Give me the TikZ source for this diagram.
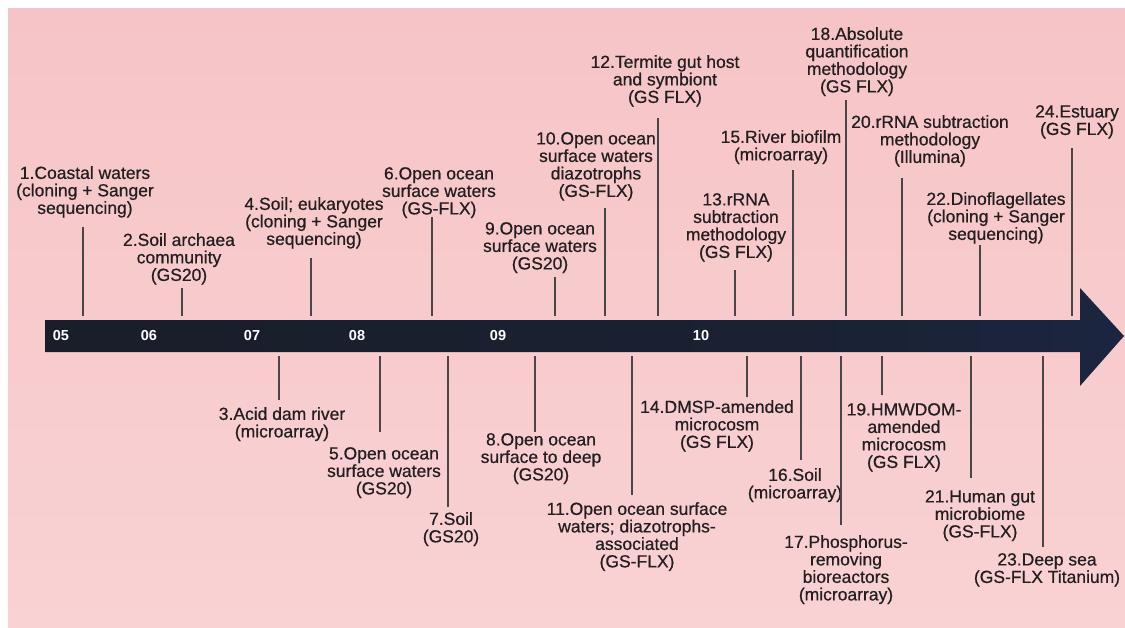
\documentclass[tikz,border=0pt]{standalone}
\usepackage{fontspec}
\setmainfont{Liberation Sans}
\newfontfamily\lblfont[FakeBold=0.6]{Liberation Sans}
\definecolor{bgpinktop}{HTML}{F6C4C6}
\definecolor{bgpinkbot}{HTML}{F9D2D4}
\definecolor{barleft}{HTML}{1A1B22}
\definecolor{barmid}{HTML}{1A2133}
\definecolor{barright}{HTML}{1F2D54}
\definecolor{txt}{HTML}{231E20}
\definecolor{tickc}{HTML}{4A4548}
\tikzset{
  lbl/.style={align=center, inner sep=0pt, anchor=north, text=txt,
    font=\lblfont\fontsize{17.5}{17.5}\selectfont},
  yearlbl/.style={inner sep=0pt, text=white, font=\bfseries\fontsize{14.5}{14.5}\selectfont},
  tickline/.style={draw=tickc, line width=1.3pt}
}
\begin{document}
\begin{tikzpicture}[x=1pt,y=-1pt]
\useasboundingbox (0,0) rectangle (1125,627);
\fill[white] (0,0) rectangle (1125,627);
\shade[top color=bgpinktop, bottom color=bgpinkbot] (8,8) rectangle (1125,627);
% timeline arrow
\pgfdeclarehorizontalshading{barshade}{100bp}{color(0bp)=(barleft); color(60bp)=(barmid); color(100bp)=(barright)}
\shade[shading=barshade]
  (45,320) -- (1080,320) -- (1080,288) -- (1124,336) -- (1080,386) -- (1080,352) -- (45,352) -- cycle;
\coordinate (bartop) at (0,316);
\coordinate (barbot) at (0,356);
% years
\node[yearlbl] (y05) at (61,336) {05};
\node[yearlbl] (y06) at (149,336) {06};
\node[yearlbl] (y07) at (252,336) {07};
\node[yearlbl] (y08) at (357,336) {08};
\node[yearlbl] (y09) at (498,336) {09};
\node[yearlbl] (y10) at (701,336) {10};
% labels above
\node[lbl] (l1) at (85,166) {1.Coastal waters\\(cloning + Sanger\\sequencing)};
\node[lbl] (l2) at (179,233) {2.Soil archaea\\community\\(GS20)};
\node[lbl] (l4) at (314,197) {4.Soil; eukaryotes\\(cloning + Sanger\\sequencing)};
\node[lbl] (l6) at (439,167) {6.Open ocean\\surface waters\\(GS-FLX)};
\node[lbl] (l9) at (540,222) {9.Open ocean\\surface waters\\(GS20)};
\node[lbl] (l10) at (596,132) {10.Open ocean\\surface waters\\diazotrophs\\(GS-FLX)};
\node[lbl] (l12) at (665,55) {12.Termite gut host\\and symbiont\\(GS FLX)};
\node[lbl] (l13) at (736,193) {13.rRNA\\subtraction\\methodology\\(GS FLX)};
\node[lbl] (l15) at (781,130) {15.River biofilm\\(microarray)};
\node[lbl] (l18) at (857,27) {18.Absolute\\quantification\\methodology\\(GS FLX)};
\node[lbl] (l20) at (930,115) {20.rRNA subtraction\\methodology\\(Illumina)};
\node[lbl] (l22) at (996,192) {22.Dinoflagellates\\(cloning + Sanger\\sequencing)};
\node[lbl] (l24) at (1077,105) {24.Estuary\\(GS FLX)};
% labels below
\node[lbl] (l3) at (282,407) {3.Acid dam river\\(microarray)};
\node[lbl] (l5) at (384,447) {5.Open ocean\\surface waters\\(GS20)};
\node[lbl] (l7) at (451,512) {7.Soil\\(GS20)};
\node[lbl] (l8) at (541,433) {8.Open ocean\\surface to deep\\(GS20)};
\node[lbl] (l11) at (637,502) {11.Open ocean surface\\waters; diazotrophs-\\associated\\(GS-FLX)};
\node[lbl] (l14) at (717,400) {14.DMSP-amended\\microcosm\\(GS FLX)};
\node[lbl] (l16) at (795,468) {16.Soil\\(microarray)};
\node[lbl] (l17) at (846,535) {17.Phosphorus-\\removing\\bioreactors\\(microarray)};
\node[lbl] (l19) at (904,403) {19.HMWDOM-\\amended\\microcosm\\(GS FLX)};
\node[lbl] (l21) at (980,490) {21.Human gut\\microbiome\\(GS-FLX)};
\node[lbl] (l23) at (1047,553) {23.Deep sea\\(GS-FLX Titanium)};
% ticks above
\foreach \n/\x/\y in {1/83/227, 2/182/288, 4/311/258, 6/432/217, 9/555/277,
  10/605/208, 12/658/118, 13/735/270, 15/793/170, 18/846/100, 20/902/178,
  22/980/245, 24/1072/148}{
  \coordinate (t\n) at (\x,\y);
  \draw[tickline] (t\n) -- (t\n |- bartop);
}
% ticks below
\foreach \n/\x/\y in {3/279/400, 5/380/432, 7/448/507, 8/535/432, 11/632/495,
  14/747/397, 16/801/460, 17/841/525, 19/882/395, 21/971/478, 23/1043/547}{
  \coordinate (t\n) at (\x,\y);
  \draw[tickline] (t\n) -- (t\n |- barbot);
}
\end{tikzpicture}
\end{document}
